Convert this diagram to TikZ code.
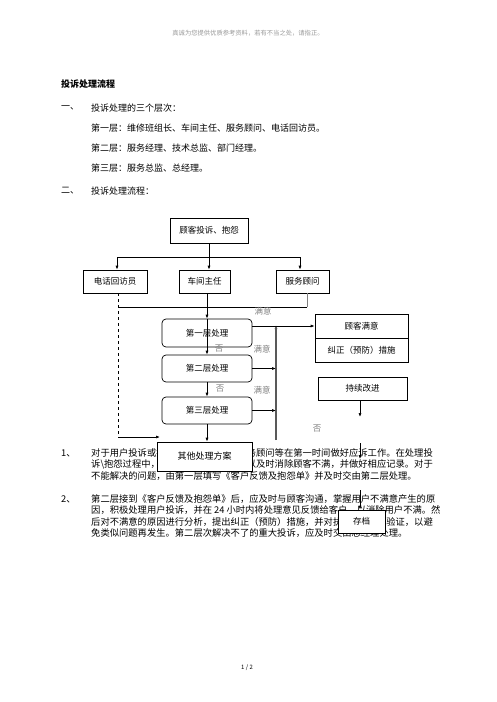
\documentclass[tikz,border=0pt]{standalone}
\usepackage{fontspec}
\setmainfont{Noto Sans CJK SC}
\usetikzlibrary{arrows.meta}
\newcommand{\bodyfont}{\fontsize{9}{10}\selectfont}
\newcommand{\parfont}{\fontsize{9.3}{10}\selectfont}
\newcommand{\boxfont}{\fontsize{8.5}{10}\selectfont}

\begin{document}
\begin{tikzpicture}[x=1pt, y=-1pt,
	box/.style={draw, fill=white, line width=0.7pt, inner sep=0pt, font=\boxfont},
	rbox/.style={box, rounded corners=4pt},
	lbl/.style={gray, font=\boxfont, inner sep=0pt},
	txt/.style={anchor=west, inner sep=0pt, font=\bodyfont},
	ptxt/.style={txt, font=\parfont},
	arr/.style={-{Latex[length=4pt,width=3pt]}, line width=0.7pt}]
\useasboundingbox (0,0) rectangle (496,702);

	%% Kopfzeile
	\node[lbl, font=\fontsize{6.3}{7}\selectfont, gray!80] (hdr) at (248,33) {真诚为您提供优质参考资料，若有不当之处，请指正。};
	\node[inner sep=0pt, font=\fontsize{6}{7}\selectfont] (pg) at (247,668) {1 / 2};

	%% Text oben
	\node[txt, font=\fontsize{9}{10}\selectfont\bfseries] (title) at (61,84) {投诉处理流程};
	\node[txt] (n1) at (61,108) {一、};
	\node[txt] (n1t) at (91,108) {投诉处理的三个层次：};
	\node[txt] (lay1) at (91,128) {第一层：维修班组长、车间主任、服务顾问、电话回访员。};
	\node[txt] (lay2) at (91,148) {第二层：服务经理、技术总监、部门经理。};
	\node[txt] (lay3) at (91,168) {第三层：服务总监、总经理。};
	\node[txt] (n2) at (61,191) {二、};
	\node[txt] (n2t) at (91,191) {投诉处理流程：};

	%% Absatz 1
	\node[ptxt] (p1) at (61,453) {1、};
	\node[ptxt] (p1a) at (91,453) {对于用户投诉或抱};
	\node[ptxt, anchor=east] (p1b) at (433,453) {务顾问等在第一时间做好应诉工作。在处理投};
	\node[ptxt] (p1c) at (91,464.5) {诉\textbackslash 抱怨过程中，};
	\node[ptxt, anchor=east] (p1d) at (433,464.5) {以及时消除顾客不满，并做好相应记录。对于};
	\node[ptxt] (p1e) at (91,476) {不能解决的问题，由第一层填写《客户反馈及抱怨单》并及时交由第二层处理。};

	%% Absatz 2
	\node[ptxt] (p2) at (61,499) {2、};
	\node[ptxt] (p2a) at (91,499) {第二层接到《客户反馈及抱怨单》后，应及时与顾客沟通，掌握用户不满意产生的原};
	\node[ptxt] (p2b) at (91,510.5) {因，积极处理用户投诉，并在 24 小时内将处理意见反馈给客户，以消除用户不满。然};
	\node[ptxt] (p2c) at (91,522) {后对不满意的原因进行分析，提出纠正（预防）措施，并对执};
	\node[ptxt, anchor=east] (p2d) at (433,522) {验证，以避};
	\node[ptxt] (p2e) at (91,533.5) {免类似问题再发生。第二层次解决不了的重大投诉，应及时交由总经理处理。};

	%% Ablauf
	\node[box, minimum width=78pt, minimum height=25pt] (cust) at (209,230.5) {顾客投诉、抱怨};
	\node[box, minimum width=64pt, minimum height=23pt] (phone) at (115,281.5) {电话回访员};
	\node[box, minimum width=51pt, minimum height=23pt] (chief) at (204.5,281.5) {车间主任};
	\node[box, minimum width=53pt, minimum height=23pt] (svc) at (302.5,281.5) {服务顾问};

	\node[rbox, minimum width=90pt, minimum height=28pt] (lv1) at (207,333) {第一层处理};
	\node[rbox, minimum width=90pt, minimum height=27pt] (lv2) at (207,368.5) {第二层处理};
	\node[rbox, minimum width=90pt, minimum height=27pt] (lv3) at (207,410.5) {第三层处理};
	\node[box, minimum width=95pt, minimum height=29pt, font=\fontsize{9}{10}\selectfont] (other) at (204.5,456.5) {其他处理方案};

	\node[box, minimum width=93pt, minimum height=24pt] (sat) at (361.5,326) {顾客满意};
	\node[box, minimum width=93pt, minimum height=24pt] (fix) at (361.5,350) {纠正（预防）措施};
	\node[box, minimum width=89pt, minimum height=23pt] (imp) at (362.5,388.5) {持续改进};
	\node[box, minimum width=47pt, minimum height=23pt] (arch) at (361.5,521.5) {存档};

	%% Hilfspunkte
	\coordinate (jl) at (117,257);
	\coordinate (jr) at (300,257);
	\coordinate (sv) at (307,307);
	\coordinate (dl) at (118,437);
	\coordinate (dr) at (160,437);
	\coordinate (bt) at (276,325);
	\coordinate (bb) at (276,440);
	\coordinate (i1) at (360,417);
	\coordinate (i2) at (360,443);
	\coordinate (i3) at (360,459);
	\coordinate (i4) at (360,490);

	%% Verbindungen
	\draw[line width=0.7pt] (cust.south) -- (cust.south |- jl);
	\draw[line width=0.7pt] (jl) -- (jr);
	\draw[arr] (jl) -- (jl |- phone.north);
	\draw[arr] (cust.south |- jl) -- (cust.south |- chief.north);
	\draw[arr] (jr) -- (jr |- svc.north);
	\draw[gray, line width=0.7pt] (svc.south -| sv) -- (sv);
	\draw[line width=0.7pt] (sv) -- (sv -| dl);
	\draw[dashed, line width=0.7pt] (phone.south -| dl) -- (dl);
	\draw[arr] (dl) -- (dr);

	\draw[arr] (lv1.north |- chief.south) -- (lv1.north);
	\draw[arr] (lv1.north) -- (lv2.north);
	\draw[arr] (lv2.south) -- (lv3.north);
	\draw[arr] (lv3.south) -- (lv3.south |- other.north);

	\draw[gray!70!black, arr, line width=1.2pt] (bb) -- (bt);
	\draw[arr] (lv1.east |- sat.west) -- (sat.west);
	\draw[arr] (lv2.east) -- (lv2.east -| bt);
	\draw[arr] (lv3.east) -- (lv3.east -| bt);

	\draw[arr] (imp.south -| i1) -- (i1);
	\draw[arr] (i2) -- (i3);
	\draw[arr] (i4) -- (arch.north -| i4);

	%% Beschriftungen
	\node[lbl] (ok0) at (263,311) {满意};
	\node[lbl] (ok1) at (262,349) {满意};
	\node[lbl] (ok2) at (262,390) {满意};
	\node[lbl] (no1) at (219,349) {否};
	\node[lbl] (no2) at (220,389) {否};
	\node[lbl] (no3) at (317,429) {否};
\end{tikzpicture}
\end{document}
